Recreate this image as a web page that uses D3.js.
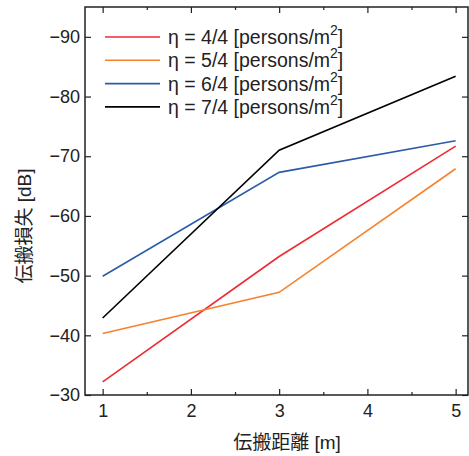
<!DOCTYPE html>
<html lang="ja">
<head>
<meta charset="utf-8">
<script src="https://d3js.org/d3.v7.min.js"></script>
<style>
  body { margin: 0; background: #fff; }
  svg { display: block; }
  text { font-family: "Liberation Sans", Arial, "Noto Sans CJK JP", sans-serif; fill: #222; }
  .tick text { font-size: 18px; }
  .lbl { font-size: 19px; }
  .leg { font-size: 19.5px; }
</style>
</head>
<body>
<svg width="469" height="456"></svg>
<script>
// distance [m]
const distances = [1, 3, 5];
// path loss [dB] per crowd density
const seriesNames = ["η = 4/4 [persons/m", "η = 5/4 [persons/m", "η = 6/4 [persons/m", "η = 7/4 [persons/m"];
const loss44 = [-32.2, -53.2, -71.7];
const loss54 = [-40.3, -47.2, -67.9];
const loss64 = [-49.9, -67.3, -72.6];
const loss74 = [-42.9, -71.0, -83.4];
const colors = ["#ee2a33", "#f7822d", "#2c5ca8", "#000000"];
const xTicks = [1, 2, 3, 4, 5];
const yTicks = [-30, -40, -50, -60, -70, -80, -90];

const series = [loss44, loss54, loss64, loss74];

const svg = d3.select("svg");
const mLeft = 85, mRight = 468, mTop = 7, mBottom = 395;

const x = d3.scaleLinear().domain([0.8, 5.14]).range([mLeft, mRight]);
const y = d3.scaleLinear().domain([-30, -95]).range([mBottom, mTop]);

// frame
svg.append("rect")
  .attr("x", mLeft).attr("y", mTop)
  .attr("width", mRight - mLeft).attr("height", mBottom - mTop)
  .attr("fill", "none").attr("stroke", "#222").attr("stroke-width", 1.5);

// axes, ticks pointing inward
const minorX = d3.range(1.5, 5.01, 1);

svg.append("g").attr("transform", `translate(0,${mBottom})`)
  .call(d3.axisBottom(x).tickValues(xTicks).tickFormat(d3.format("d")).tickSizeInner(-6).tickSizeOuter(0).tickPadding(9))
  .call(g => g.select(".domain").remove());
svg.append("g").attr("transform", `translate(0,${mBottom})`)
  .call(d3.axisBottom(x).tickValues(minorX).tickFormat("").tickSizeInner(-3).tickSizeOuter(0))
  .call(g => g.select(".domain").remove());
svg.append("g").attr("transform", `translate(0,${mTop})`)
  .call(d3.axisTop(x).tickValues(xTicks).tickFormat("").tickSizeInner(-6).tickSizeOuter(0))
  .call(g => g.select(".domain").remove());
svg.append("g").attr("transform", `translate(0,${mTop})`)
  .call(d3.axisTop(x).tickValues(minorX).tickFormat("").tickSizeInner(-3).tickSizeOuter(0))
  .call(g => g.select(".domain").remove());

svg.append("g").attr("transform", `translate(${mLeft},0)`)
  .call(d3.axisLeft(y).tickValues(yTicks).tickFormat(d => "\u2212" + Math.abs(d)).tickSizeInner(-6).tickSizeOuter(0).tickPadding(5))
  .call(g => g.select(".domain").remove());
svg.append("g").attr("transform", `translate(${mRight},0)`)
  .call(d3.axisRight(y).tickValues(yTicks).tickFormat("").tickSizeInner(-6).tickSizeOuter(0))
  .call(g => g.select(".domain").remove());

svg.selectAll(".tick line").attr("stroke", "#222").attr("stroke-width", 1.2);
svg.selectAll(".tick text").attr("fill", "#222");

// lines
const line = d3.line().x((d, i) => x(distances[i])).y(d => y(d));
svg.selectAll("path.series")
  .data(series)
  .enter()
  .append("path")
  .attr("class", "series")
  .attr("d", line)
  .attr("fill", "none")
  .attr("stroke", (d, i) => colors[i])
  .attr("stroke-width", 1.6);

// legend
const leg = svg.append("g");
seriesNames.forEach((name, i) => {
  const ly = 37 + i * 23.3;
  leg.append("line")
    .attr("x1", 105).attr("x2", 160).attr("y1", ly).attr("y2", ly)
    .attr("stroke", colors[i]).attr("stroke-width", 1.6);
  const t = leg.append("text").attr("class", "leg").attr("x", 168).attr("y", ly + 7);
  t.append("tspan").text(name);
  t.append("tspan").attr("dy", -9).attr("font-size", 14).text("2");
  t.append("tspan").attr("dy", 9).text("]");
});

// axis labels
svg.append("text").attr("class", "lbl")
  .attr("x", 287).attr("y", 449).attr("text-anchor", "middle")
  .text("伝搬距離 [m]");
svg.append("text").attr("class", "lbl")
  .attr("transform", "translate(31,226) rotate(-90)")
  .attr("text-anchor", "middle")
  .text("伝搬損失 [dB]");
</script>
</body>
</html>
